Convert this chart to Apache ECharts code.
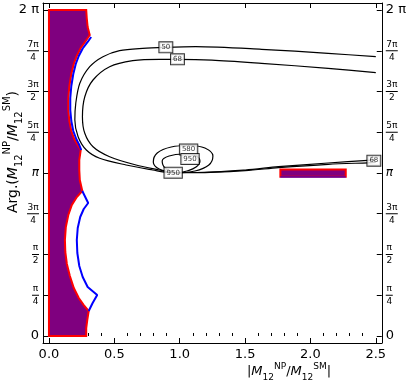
<!DOCTYPE html>
<html>
<head>
<meta charset="utf-8">
<script src="https://cdn.jsdelivr.net/npm/echarts@6/dist/echarts.min.js"></script>
<style>
  html, body { margin: 0; padding: 0; background: #fff; }
  #chart { width: 409px; height: 384px; }
</style>
</head>
<body>
<div id="chart"></div>
<script>
var FONT = 'DejaVu Sans';

// axis ticks
var xTicks = [0, 0.5, 1, 1.5, 2, 2.5];
var xMinorTicks = [0.1, 0.2, 0.3, 0.4, 0.6, 0.7, 0.8, 0.9, 1.1, 1.2, 1.3, 1.4,
                   1.6, 1.7, 1.8, 1.9, 2.1, 2.2, 2.3, 2.4];
var phaseTicks = [0, 1, 2, 3, 4, 5, 6, 7, 8].map(function (k) { return k * Math.PI / 4; });
var phaseLabels = ['0', 'π/4', 'π/2', '3π/4', 'π', '5π/4', '3π/2', '7π/4', '2 π'];

// contour lines (|M12 ratio|, phase in rad)
var c50X = [2.500, 2.135, 1.626, 1.122, 0.894, 0.717, 0.540, 0.413, 0.312, 0.236, 0.205, 0.198,
            0.223, 0.286, 0.388, 0.590, 0.793, 0.919, 1.122, 1.502, 1.755, 2.135, 2.439, 2.500];
var c50Y = [5.383, 5.449, 5.526, 5.576, 5.564, 5.545, 5.499, 5.383, 5.190, 4.870, 4.485, 4.163,
            3.841, 3.585, 3.425, 3.296, 3.199, 3.147, 3.147, 3.186, 3.244, 3.309, 3.338, 3.344];
var c68X = [2.500, 2.135, 1.626, 1.246, 0.980, 0.843, 0.641, 0.464, 0.337, 0.274, 0.256, 0.274,
            0.337, 0.464, 0.666, 0.843, 0.935, 1.122, 1.502, 1.755, 2.135, 2.439, 2.500];
var c68Y = [5.075, 5.159, 5.256, 5.319, 5.333, 5.333, 5.306, 5.190, 4.934, 4.612, 4.227, 3.907,
            3.648, 3.456, 3.296, 3.199, 3.151, 3.151, 3.199, 3.263, 3.334, 3.386, 3.396];
var c580X = [0.965, 0.843, 0.798, 0.828, 0.935, 1.071, 1.193, 1.254, 1.223, 1.117, 0.965];
var c580Y = [3.142, 3.219, 3.354, 3.527, 3.643, 3.672, 3.623, 3.469, 3.296, 3.180, 3.142];
var c950X = [0.980, 0.889, 0.866, 0.919, 1.026, 1.117, 1.155, 1.125, 1.056, 0.980];
var c950Y = [3.142, 3.238, 3.373, 3.469, 3.508, 3.479, 3.373, 3.257, 3.180, 3.142];

// contour labels
var labelX = [0.894, 0.983, 1.068, 1.079, 0.950, 2.485];
var labelY = [5.564, 5.333, 3.594, 3.411, 3.147, 3.379];
var labelText = ['50', '68', '580', '950', '950', '68'];

// allowed region (purple)
var regionX = [0, 0.285, 0.289, 0.296, 0.312, 0.281, 0.243, 0.213, 0.190, 0.171, 0.156, 0.148, 0.148,
               0.156, 0.171, 0.194, 0.220, 0.243, 0.232, 0.232, 0.236, 0.255, 0.213, 0.175, 0.148,
               0.129, 0.122, 0.125, 0.137, 0.160, 0.190, 0.228, 0.266, 0.304, 0.293, 0.285, 0.285, 0];
var regionY = [6.283, 6.283, 6.129, 5.955, 5.801, 5.686, 5.551, 5.397, 5.242, 5.050, 4.818, 4.587, 4.356,
               4.144, 3.951, 3.797, 3.681, 3.585, 3.392, 3.199, 3.006, 2.795, 2.679, 2.525, 2.332,
               2.101, 1.850, 1.619, 1.388, 1.156, 0.925, 0.732, 0.597, 0.482, 0.308, 0.154, 0, 0];
var patchX = [1.77, 2.27, 2.27, 1.77];
var patchY = [3.07, 3.07, 3.21, 3.21];

// blue boundary
var blueUpX = [0.323, 0.296, 0.258, 0.228, 0.205, 0.186, 0.171, 0.163, 0.163, 0.171, 0.186, 0.209, 0.232, 0.247];
var blueUpY = [5.763, 5.667, 5.541, 5.397, 5.242, 5.050, 4.818, 4.587, 4.356, 4.144, 3.951, 3.797, 3.681, 3.585];
var blueLowX = [0.255, 0.300, 0.266, 0.239, 0.220, 0.213, 0.217, 0.232, 0.258, 0.296, 0.369, 0.334, 0.304];
var blueLowY = [2.795, 2.563, 2.448, 2.294, 2.082, 1.850, 1.600, 1.349, 1.137, 0.944, 0.790, 0.636, 0.482];
var bluePatchX = [1.77, 2.27];
var bluePatchY = [3.065, 3.065];

function pairs(xs, ys) {
    return xs.map(function (x, i) { return [x, ys[i]]; });
}

function phaseLabel(v) {
    var t = phaseLabels[Math.round(v / (Math.PI / 4))];
    if (t === undefined) return '';
    if (t.indexOf('/') < 0) return t === 'π' ? '{pi|π}' : '{big|' + t + '}';
    var p = t.split('/');
    var b = p[0].length > 1 ? 'b2' : 'b1';
    return '{n|' + p[0] + '}\n{' + b + '| }\n{n|' + p[1] + '}';
}

var phaseRich = {
    n: { fontSize: 9, lineHeight: 10, align: 'center', fontFamily: FONT, color: '#000' },
    b1: { width: 7, height: 1, lineHeight: 3, fontSize: 1, backgroundColor: '#000', align: 'center' },
    b2: { width: 12, height: 1, lineHeight: 3, fontSize: 1, backgroundColor: '#000', align: 'center' },
    pi: { fontSize: 12, fontStyle: 'italic', fontFamily: FONT, color: '#000' },
    big: { fontSize: 13, fontFamily: FONT, color: '#000' }
};

function polygonSeries(xs, ys, fill, stroke) {
    return {
        type: 'custom',
        coordinateSystem: 'cartesian2d',
        data: pairs(xs, ys),
        silent: true,
        z: 2,
        renderItem: function (params, api) {
            if (params.dataIndex !== 0) return;
            var pts = xs.map(function (x, i) { return api.coord([x, ys[i]]); });
            return {
                type: 'polygon',
                shape: { points: pts },
                style: { fill: fill, stroke: stroke, lineWidth: 2 }
            };
        }
    };
}

function lineSeries(xs, ys, color, width, smooth) {
    return {
        type: 'line',
        data: pairs(xs, ys),
        showSymbol: false,
        symbol: 'none',
        smooth: smooth,
        silent: true,
        z: 3,
        lineStyle: { color: color, width: width }
    };
}

var xMin = -0.0456, xMax = 2.5456;
var yMin = -0.135, yMax = 2 * Math.PI + 0.135;

var chart = echarts.init(document.getElementById('chart'));

var option = {
    animation: false,
    backgroundColor: '#fff',
    grid: { left: 43, top: 3, right: 25, bottom: 41 },
    xAxis: [{
        type: 'value', min: xMin, max: xMax, position: 'bottom',
        axisLine: { show: true, onZero: false, lineStyle: { color: '#000', width: 1 } },
        axisTick: { inside: true, length: 5, customValues: xTicks, lineStyle: { color: '#000' } },
        axisLabel: {
            customValues: xTicks, margin: 5, fontSize: 13, color: '#000', fontFamily: FONT,
            formatter: function (v) { return v.toFixed(1); }
        },
        splitLine: { show: false }
    }, {
        type: 'value', min: xMin, max: xMax, position: 'bottom',
        axisLine: { show: false },
        axisTick: { inside: true, length: 3, customValues: xMinorTicks, lineStyle: { color: '#000' } },
        axisLabel: { show: false },
        splitLine: { show: false }
    }, {
        type: 'value', min: xMin, max: xMax, position: 'top',
        axisLine: { show: true, onZero: false, lineStyle: { color: '#000', width: 1 } },
        axisTick: { inside: true, length: 5, customValues: xTicks, lineStyle: { color: '#000' } },
        axisLabel: { show: false },
        splitLine: { show: false }
    }],
    yAxis: [{
        type: 'value', min: yMin, max: yMax, position: 'left',
        axisLine: { show: true, onZero: false, lineStyle: { color: '#000', width: 1 } },
        axisTick: { inside: true, length: 5, customValues: phaseTicks, lineStyle: { color: '#000' } },
        axisLabel: { customValues: phaseTicks, margin: 4, formatter: phaseLabel, rich: phaseRich },
        splitLine: { show: false }
    }, {
        type: 'value', min: yMin, max: yMax, position: 'right',
        axisLine: { show: true, onZero: false, lineStyle: { color: '#000', width: 1 } },
        axisTick: { inside: true, length: 5, customValues: phaseTicks, lineStyle: { color: '#000' } },
        axisLabel: { customValues: phaseTicks, margin: 4, formatter: phaseLabel, rich: phaseRich },
        splitLine: { show: false }
    }],
    series: [
        polygonSeries(regionX, regionY, '#7f007f', '#ff0000'),
        polygonSeries(patchX, patchY, '#7f007f', '#ff0000'),
        lineSeries(blueUpX, blueUpY, '#0000ff', 2, false),
        lineSeries(blueLowX, blueLowY, '#0000ff', 2, false),
        lineSeries(bluePatchX, bluePatchY, '#0000ff', 1, false),
        lineSeries(c50X, c50Y, '#000', 1.2, 0.3),
        lineSeries(c68X, c68Y, '#000', 1.2, 0.3),
        lineSeries(c580X, c580Y, '#000', 1.2, 0.4),
        lineSeries(c950X, c950Y, '#000', 1.2, 0.4),
        {
            type: 'scatter',
            data: pairs(labelX, labelY),
            symbol: 'rect',
            symbolSize: 1,
            itemStyle: { color: 'rgba(0,0,0,0)' },
            silent: true,
            z: 5,
            label: {
                show: true, position: 'inside', fontSize: 7, color: '#000', fontFamily: FONT,
                backgroundColor: '#fff', borderColor: '#000', borderWidth: 1, padding: [2, 2, 1, 2],
                formatter: function (p) { return labelText[p.dataIndex]; }
            }
        }
    ],
    graphic: [{
        type: 'text', x: 289, y: 372,
        style: {
            text: '|{i|M}{s|12}{p|NP}/{i|M}{s|12}{p|SM}|',
            align: 'center', verticalAlign: 'middle',
            fontSize: 13, fontFamily: FONT, fill: '#000', lineHeight: 20,
            rich: {
                i: { fontSize: 13, fontStyle: 'italic', fontFamily: FONT, lineHeight: 20 },
                s: { fontSize: 9, fontFamily: FONT, verticalAlign: 'bottom', lineHeight: 9 },
                p: { fontSize: 9, fontFamily: FONT, verticalAlign: 'top', lineHeight: 9 }
            }
        }
    }, {
        type: 'text', x: 13, y: 152, rotation: Math.PI / 2,
        style: {
            text: 'Arg.({i|M}{s|12}{p|NP}/{i|M}{s|12}{p|SM})',
            align: 'center', verticalAlign: 'middle',
            fontSize: 14, fontFamily: FONT, fill: '#000', lineHeight: 22,
            rich: {
                i: { fontSize: 14, fontStyle: 'italic', fontFamily: FONT, lineHeight: 22 },
                s: { fontSize: 10, fontFamily: FONT, verticalAlign: 'bottom', lineHeight: 10 },
                p: { fontSize: 10, fontFamily: FONT, verticalAlign: 'top', lineHeight: 10 }
            }
        }
    }]
};

chart.setOption(option);
</script>
</body>
</html>
